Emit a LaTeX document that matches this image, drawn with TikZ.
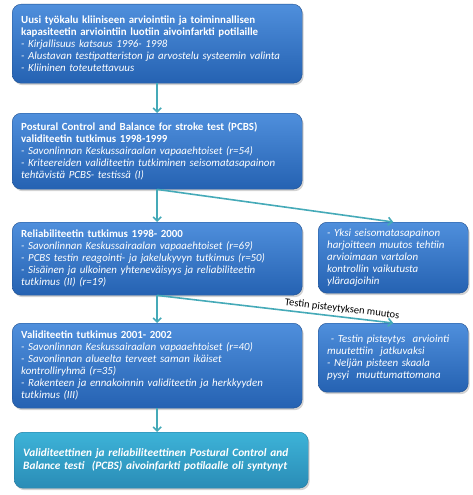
\documentclass[tikz,border=0pt]{standalone}
\usepackage{fontspec}
\setmainfont{Carlito}
\usetikzlibrary{arrows.meta,shadows}
\definecolor{boxtop}{HTML}{4F8FDC}
\definecolor{boxbot}{HTML}{2562B2}
\definecolor{tealtop}{HTML}{3DB3D8}
\definecolor{tealbot}{HTML}{2A8CB6}
\definecolor{conn}{HTML}{45AAB8}
\tikzset{
  box/.style={anchor=north west, rounded corners=9pt, draw=boxbot!80!black, line width=0.4pt,
    top color=boxtop, bottom color=boxbot, text=white, align=left,
    inner xsep=9pt, inner ysep=2pt, font=\fontsize{10.9}{12}\selectfont,
    drop shadow={opacity=0.35, shadow xshift=1.5pt, shadow yshift=-2pt}},
  tealbox/.style={box, top color=tealtop, bottom color=tealbot, draw=tealbot!85!black,
    font=\fontsize{11.3}{13}\selectfont},
  conn/.style={draw=conn, line width=1.6pt, -{Straight Barb[length=4pt,width=8pt]}},
  lbl/.style={font=\fontsize{10.5}{11}\selectfont, text=black}
}
\begin{document}
\begin{tikzpicture}[x=1pt,y=-1pt]
\useasboundingbox (0,0) rectangle (472,495);
\node[box, text width=272pt, minimum height=79pt] (b1) at (12,4) {\textbf{Uusi työkalu kliiniseen arviointiin ja toiminnallisen}\\\textbf{kapasiteetin arviointiin luotiin aivoinfarkti potilaille}\\\textit{- Kirjallisuus katsaus 1996- 1998}\\\textit{- Alustavan testipatteriston ja arvostelu systeemin valinta}\\\textit{- Kliininen toteutettavuus}};
\node[box, text width=272pt, minimum height=76pt] (b2) at (12,113) {\textbf{Postural Control and Balance for stroke test (PCBS)}\\\textbf{validiteetin tutkimus 1998-1999}\\\textit{- Savonlinnan Keskussairaalan vapaaehtoiset (r=54)}\\\textit{- Kriteereiden validiteetin tutkiminen seisomatasapainon}\\\textit{tehtävistä PCBS- testissä (I)}};
\node[box, text width=272pt, minimum height=73pt] (b3) at (12,222) {\textbf{Reliabiliteetin tutkimus 1998- 2000}\\\textit{- Savonlinnan Keskussairaalan vapaaehtoiset (r=69)}\\\textit{- PCBS testin reagointi- ja jakelukyvyn tutkimus (r=50)}\\\textit{- Sisäinen ja ulkoinen yhteneväisyys ja reliabiliteetin}\\\textit{tutkimus (II) (r=19)}};
\node[box, text width=272pt, minimum height=85pt] (b4) at (12,323) {\textbf{Validiteetin tutkimus 2001- 2002}\\\textit{- Savonlinnan Keskussairaalan vapaaehtoiset (r=40)}\\\textit{- Savonlinnan alueelta terveet saman ikäiset}\\\textit{kontrolliryhmä (r=35)}\\\textit{- Rakenteen ja ennakoinnin validiteetin ja herkkyyden}\\\textit{tutkimus (III)}};
\node[tealbox, text width=276pt, minimum height=56pt] (b5) at (14,432) {\textbf{\textit{Validiteettinen ja reliabiliteettinen Postural Control and}}\\\textbf{\textit{Balance testi~ (PCBS) aivoinfarkti potilaalle oli syntynyt}}};
\node[box, text width=132pt, minimum height=71pt] (r1) at (318,222) {\textit{- Yksi seisomatasapainon}\\\textit{harjoitteen muutos tehtiin}\\\textit{arvioimaan vartalon}\\\textit{kontrollin vaikutusta}\\\textit{yläraajoihin}};
\node[box, text width=132pt, minimum height=69pt] (r2) at (318,323) {\textit{~- Testin pisteytys~ arviointi}\\\textit{muutettiin~ jatkuvaksi}\\\textit{- Neljän pisteen skaala}\\\textit{pysyi~ muuttumattomana}};
\draw[conn] (b1.south) -- (b2.north);
\draw[conn] (b2.south) -- (b3.north);
\draw[conn] (b3.south) -- (b4.north);
\draw[conn] (b4.south) -- (b5.north -| b4.south);
\draw[conn] (b2.south) -- (r1.north);
\draw[conn] (b3.south) -- node[lbl, pos=0.78, above, sloped, inner sep=2.5pt] {Testin pisteytyksen muutos} (r2.north);
\end{tikzpicture}
\end{document}
